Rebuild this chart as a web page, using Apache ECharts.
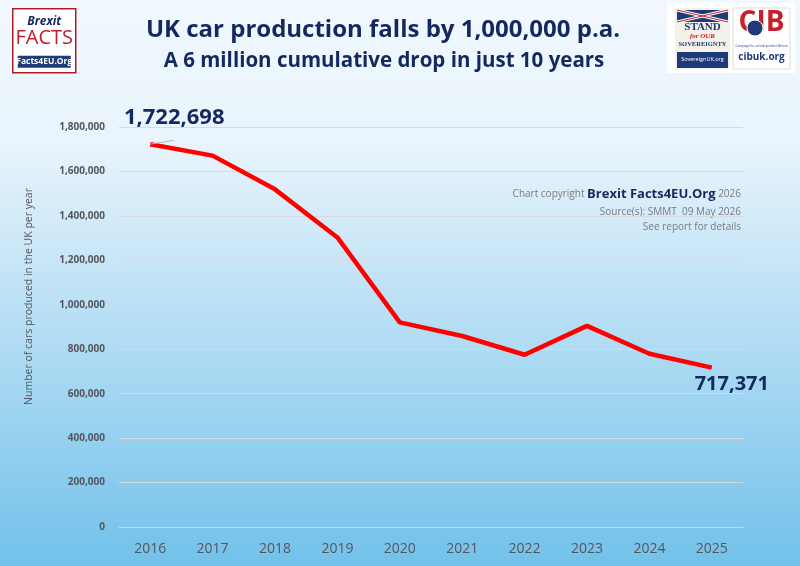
<!DOCTYPE html>
<html>
<head>
<meta charset="utf-8">
<script src="https://cdn.jsdelivr.net/npm/echarts@6/dist/echarts.min.js"></script>
<style>
  html, body { margin: 0; padding: 0; }
  #chart { width: 800px; height: 566px; }
</style>
</head>
<body>
<div id="chart"></div>
<script>
// UK car production, SMMT
const years = ['2016', '2017', '2018', '2019', '2020', '2021', '2022', '2023', '2024', '2025'];
const cars = [1722698, 1671166, 1519440, 1303135, 920928, 859575, 775014, 905233, 779584, 717371];
const yTicks = [0, 200000, 400000, 600000, 800000, 1000000, 1200000, 1400000, 1600000, 1800000];

const navy = '#13285f';
const grey = '#55565c';
const font = 'Open Sans';
const fmt = v => v.toLocaleString('en-US');

const chart = echarts.init(document.getElementById('chart'));

// first and last points get the big labels
const seriesData = cars.map((v, i) => {
  const item = { value: v };
  if (i === 0) {
    item.label = { show: true, position: 'top', offset: [24, -10], fontSize: 22 };
    item.labelLine = { show: true, lineStyle: { color: '#b8b8b8', width: 1 } };
  } else if (i === cars.length - 1) {
    item.label = { show: true, position: 'bottom', offset: [20, 2], fontSize: 20 };
  }
  return item;
});

chart.setOption({
  backgroundColor: {
    type: 'linear', x: 0, y: 0, x2: 0, y2: 1,
    colorStops: [
      { offset: 0, color: '#f1f8fe' },
      { offset: 0.25, color: '#e9f4fc' },
      { offset: 1, color: '#72c1ea' }
    ]
  },
  textStyle: { fontFamily: font },
  title: [
    {
      text: 'UK car production falls by 1,000,000 p.a.',
      left: 378, top: 13, textAlign: 'center',
      textStyle: { color: navy, fontSize: 24, fontWeight: 'bold', fontFamily: font }
    },
    {
      text: 'A 6 million cumulative drop in just 10 years',
      left: 379, top: 46, textAlign: 'center',
      textStyle: { color: navy, fontSize: 20.5, fontWeight: 'bold', fontFamily: font }
    }
  ],
  grid: { left: 119, right: 57, top: 127, bottom: 39 },
  xAxis: {
    type: 'category',
    data: years,
    boundaryGap: true,
    axisLine: { lineStyle: { color: '#d4d4d4' } },
    axisTick: { show: false },
    axisLabel: { color: grey, fontSize: 14, margin: 15, fontFamily: font }
  },
  yAxis: {
    type: 'value',
    min: yTicks[0],
    max: yTicks[yTicks.length - 1],
    interval: yTicks[1] - yTicks[0],
    axisLine: { show: false },
    axisTick: { show: false },
    axisLabel: { color: grey, fontSize: 10, fontWeight: 'bold', margin: 14, formatter: fmt, fontFamily: font },
    splitLine: { lineStyle: { color: '#d6dadf', width: 1 } }
  },
  series: [{
    type: 'line',
    data: seriesData,
    symbol: 'circle',
    symbolSize: 0,
    showSymbol: true,
    lineStyle: { color: '#ff0000', width: 4.5 },
    itemStyle: { color: '#ff0000' },
    label: { show: false, color: navy, fontWeight: 'bold', fontFamily: font, formatter: p => fmt(p.value) },
    animation: false
  }],
  graphic: [
    // y axis name
    {
      type: 'text', left: 24, top: 188, rotation: Math.PI / 2,
      style: { text: 'Number of cars produced in the UK per year', fill: grey, fontSize: 10.5, fontFamily: font }
    },
    // copyright block
    {
      type: 'text', right: 59, top: 188,
      style: {
        text: '{a|Chart copyright }{b|Brexit Facts4EU.Org}{a| 2026}',
        align: 'right',
        rich: {
          a: { fill: '#7a7a80', fontSize: 10, fontFamily: font },
          b: { fill: navy, fontSize: 13, fontWeight: 'bold', fontFamily: font }
        }
      }
    },
    {
      type: 'text', right: 59, top: 207,
      style: { text: 'Source(s): SMMT  09 May 2026', fill: '#7a7a80', fontSize: 10, fontFamily: font, align: 'right' }
    },
    {
      type: 'text', right: 59, top: 222,
      style: { text: 'See report for details', fill: '#7a7a80', fontSize: 10, fontFamily: font, align: 'right' }
    },
    // Brexit Facts logo
    {
      type: 'group', left: 12, top: 8,
      children: [
        { type: 'rect', shape: { x: 0, y: 0, width: 63, height: 64 }, style: { fill: '#ffffff', stroke: '#b01c24', lineWidth: 1.5 } },
        { type: 'text', x: 31.5, y: 7, style: { text: 'Brexit', fill: navy, fontSize: 12, fontWeight: 'bold', fontStyle: 'italic', align: 'center', fontFamily: font } },
        { type: 'text', x: 31.5, y: 20, style: { text: 'FACTS', fill: '#c0202b', fontSize: 20, align: 'center', fontFamily: font } },
        { type: 'rect', shape: { x: 5, y: 47, width: 53, height: 12 }, style: { fill: '#1e3c78' } },
        { type: 'text', x: 31.5, y: 48, style: { text: 'Facts4EU.Org', fill: '#ffffff', fontSize: 8.5, fontWeight: 'bold', align: 'center', fontFamily: font } }
      ]
    },
    // right logos
    {
      type: 'group', left: 667, top: 3,
      children: [
        { type: 'rect', shape: { x: 0, y: 0, width: 128, height: 70 }, style: { fill: '#ffffff' } },
        { type: 'rect', shape: { x: 8, y: 5, width: 55, height: 61 }, style: { fill: '#f4f1ea' } },
        { type: 'rect', shape: { x: 10, y: 7, width: 51, height: 12 }, style: { fill: '#1f3a78' } },
        { type: 'line', shape: { x1: 10, y1: 7, x2: 61, y2: 19 }, style: { stroke: '#ffffff', lineWidth: 3 } },
        { type: 'line', shape: { x1: 61, y1: 7, x2: 10, y2: 19 }, style: { stroke: '#ffffff', lineWidth: 3 } },
        { type: 'line', shape: { x1: 10, y1: 7, x2: 61, y2: 19 }, style: { stroke: '#c8202b', lineWidth: 1 } },
        { type: 'line', shape: { x1: 61, y1: 7, x2: 10, y2: 19 }, style: { stroke: '#c8202b', lineWidth: 1 } },
        { type: 'text', x: 35.5, y: 19, style: { text: 'STAND', fill: '#1f3a78', fontSize: 11, fontWeight: 'bold', fontFamily: 'Liberation Serif', align: 'center' } },
        { type: 'text', x: 35.5, y: 30, style: { text: 'for OUR', fill: '#c8202b', fontSize: 7, fontStyle: 'italic', fontWeight: 'bold', fontFamily: 'Liberation Serif', align: 'center' } },
        { type: 'text', x: 35.5, y: 38, style: { text: 'SOVEREIGNTY', fill: '#1f3a78', fontSize: 6.5, fontWeight: 'bold', fontFamily: 'Liberation Serif', align: 'center' } },
        { type: 'rect', shape: { x: 10, y: 49, width: 51, height: 16 }, style: { fill: '#1f3a78' } },
        { type: 'text', x: 35.5, y: 53, style: { text: 'SovereignUK.org', fill: '#ffffff', fontSize: 5.5, fontFamily: font, align: 'center' } },
        { type: 'rect', shape: { x: 66, y: 5, width: 57, height: 61 }, style: { fill: '#ffffff', stroke: '#dddddd', lineWidth: 1 } },
        { type: 'text', x: 94.5, y: 6, style: { text: 'CIB', fill: '#c8202b', fontSize: 28, fontWeight: 'bold', fontFamily: font, align: 'center' } },
        { type: 'circle', shape: { cx: 88, cy: 25, r: 8 }, style: { fill: '#1f3a78', stroke: '#ffffff', lineWidth: 1 } },
        { type: 'text', x: 94.5, y: 42, style: { text: 'Campaign for an Independent Britain', fill: '#1f3a78', fontSize: 3, fontFamily: font, align: 'center' } },
        { type: 'text', x: 94.5, y: 49, style: { text: 'cibuk.org', fill: '#1f3a78', fontSize: 10, fontWeight: 'bold', fontFamily: font, align: 'center' } }
      ]
    }
  ]
});
</script>
</body>
</html>
